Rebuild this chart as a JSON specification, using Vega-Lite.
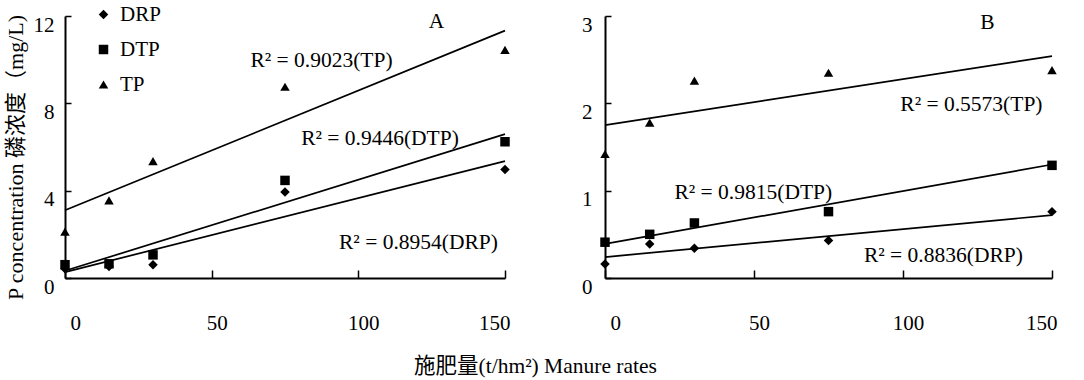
{
  "$schema": "https://vega.github.io/schema/vega-lite/v6.json",
  "background": "white",
  "padding": {"left": 3, "top": 4, "right": 5, "bottom": 5},
  "config": {
    "font": "'Liberation Serif', 'Times New Roman', 'Noto Sans CJK SC', serif",
    "view": {"stroke": null},
    "axis": {
      "grid": false,
      "domainColor": "black",
      "domainWidth": 2,
      "tickColor": "black",
      "tickWidth": 1.5,
      "labelColor": "black",
      "labelFont": "'Liberation Serif', 'Times New Roman', serif",
      "labelFontSize": 21,
      "titleColor": "black",
      "titleFont": "'Liberation Serif', 'Times New Roman', 'Noto Sans CJK SC', serif",
      "titleFontSize": 21.5,
      "titleFontWeight": "normal"
    }
  },
  "datasets": {
    "points": [
      {"panel": "A", "series": "DRP", "x": 0, "y": 0.42},
      {"panel": "A", "series": "DRP", "x": 15, "y": 0.53},
      {"panel": "A", "series": "DRP", "x": 30, "y": 0.61},
      {"panel": "A", "series": "DRP", "x": 75, "y": 3.94},
      {"panel": "A", "series": "DRP", "x": 150, "y": 4.97},
      {"panel": "A", "series": "DTP", "x": 0, "y": 0.61},
      {"panel": "A", "series": "DTP", "x": 15, "y": 0.65},
      {"panel": "A", "series": "DTP", "x": 30, "y": 1.06},
      {"panel": "A", "series": "DTP", "x": 75, "y": 4.47},
      {"panel": "A", "series": "DTP", "x": 150, "y": 6.24},
      {"panel": "A", "series": "TP", "x": 0, "y": 2.12},
      {"panel": "A", "series": "TP", "x": 15, "y": 3.56},
      {"panel": "A", "series": "TP", "x": 30, "y": 5.35},
      {"panel": "A", "series": "TP", "x": 75, "y": 8.76},
      {"panel": "A", "series": "TP", "x": 150, "y": 10.45},
      {"panel": "B", "series": "DRP", "x": 0, "y": 0.16},
      {"panel": "B", "series": "DRP", "x": 15, "y": 0.39},
      {"panel": "B", "series": "DRP", "x": 30, "y": 0.34},
      {"panel": "B", "series": "DRP", "x": 75, "y": 0.43},
      {"panel": "B", "series": "DRP", "x": 150, "y": 0.76},
      {"panel": "B", "series": "DTP", "x": 0, "y": 0.41},
      {"panel": "B", "series": "DTP", "x": 15, "y": 0.5},
      {"panel": "B", "series": "DTP", "x": 30, "y": 0.63},
      {"panel": "B", "series": "DTP", "x": 75, "y": 0.76},
      {"panel": "B", "series": "DTP", "x": 150, "y": 1.29},
      {"panel": "B", "series": "TP", "x": 0, "y": 1.42},
      {"panel": "B", "series": "TP", "x": 15, "y": 1.78},
      {"panel": "B", "series": "TP", "x": 30, "y": 2.26},
      {"panel": "B", "series": "TP", "x": 75, "y": 2.35},
      {"panel": "B", "series": "TP", "x": 150, "y": 2.38}
    ],
    "fits": [
      {"panel": "A", "series": "DRP", "x": 0, "y": 0.27},
      {"panel": "A", "series": "DRP", "x": 150, "y": 5.35},
      {"panel": "A", "series": "DTP", "x": 0, "y": 0.33},
      {"panel": "A", "series": "DTP", "x": 150, "y": 6.59},
      {"panel": "A", "series": "TP", "x": 0, "y": 3.1},
      {"panel": "A", "series": "TP", "x": 150, "y": 11.33},
      {"panel": "B", "series": "DRP", "x": 0, "y": 0.24},
      {"panel": "B", "series": "DRP", "x": 150, "y": 0.72},
      {"panel": "B", "series": "DTP", "x": 0, "y": 0.39},
      {"panel": "B", "series": "DTP", "x": 150, "y": 1.3},
      {"panel": "B", "series": "TP", "x": 0, "y": 1.75},
      {"panel": "B", "series": "TP", "x": 150, "y": 2.54}
    ],
    "notes": [
      {"panel": "A", "x": 63.2, "y": 9.95, "label": "R² = 0.9023(TP)"},
      {"panel": "A", "x": 80.5, "y": 6.36, "label": "R² = 0.9446(DTP)"},
      {"panel": "A", "x": 93.4, "y": 1.59, "label": "R² = 0.8954(DRP)"},
      {"panel": "A", "x": 124.0, "y": 11.74, "label": "A"},
      {"panel": "B", "x": 99.1, "y": 1.98, "label": "R² = 0.5573(TP)"},
      {"panel": "B", "x": 23.3, "y": 0.97, "label": "R² = 0.9815(DTP)"},
      {"panel": "B", "x": 86.9, "y": 0.25, "label": "R² = 0.8836(DRP)"},
      {"panel": "B", "x": 125.9, "y": 2.92, "label": "B"}
    ]
  },
  "spacing": 100,
  "bounds": "flush",
  "resolve": {
    "scale": {"x": "independent", "y": "independent", "shape": "independent"},
    "legend": {"shape": "independent"}
  },
  "hconcat": [
    {
      "width": 440,
      "height": 262,
      "encoding": {
        "x": {
          "field": "x", "type": "quantitative",
          "scale": {"domain": [0, 150], "nice": false},
          "axis": {
            "values": [0, 50, 100, 150], "tickSize": -8, "labelPadding": 42, "labelOffset": 5,
            "title": "施肥量(t/hm²) Manure rates", "titleX": 470, "titleY": 88, "titleBaseline": "middle", "titleAlign": "center", "titleAngle": 0
          }
        },
        "y": {
          "field": "y", "type": "quantitative",
          "scale": {"domain": [0, 12], "nice": false},
          "axis": {
            "values": [0, 4, 8, 12], "tickSize": -6, "labelPadding": 17, "labelOffset": 9,
            "title": "P concentration 磷浓度（mg/L)", "titleFontSize": 22, "titlePadding": 6, "titleY": 141
          }
        }
      },
      "layer": [
        {
          "data": {"name": "fits"},
          "transform": [{"filter": "datum.panel === 'A'"}],
          "mark": {"type": "line", "color": "black", "strokeWidth": 1.7},
          "encoding": {"detail": {"field": "series", "type": "nominal"}}
        },
        {
          "data": {"name": "points"},
          "transform": [{"filter": "datum.panel === 'A'"}],
          "mark": {"type": "point", "filled": true, "color": "black", "opacity": 1, "size": 90},
          "encoding": {
            "shape": {
              "field": "series", "type": "nominal",
              "scale": {"domain": ["DRP", "DTP", "TP"], "range": ["diamond", "square", "triangle-up"]},
              "legend": {
                "orient": "none", "legendX": 28, "legendY": -12, "title": null, "padding": 0,
                "labelFontSize": 21, "labelFont": "'Liberation Serif', 'Times New Roman', serif", "labelColor": "black",
                "symbolSize": 90, "symbolFillColor": "black", "symbolStrokeColor": "black",
                "symbolOpacity": 1, "rowPadding": 13, "labelOffset": 6
              }
            }
          }
        },
        {
          "data": {"name": "notes"},
          "transform": [{"filter": "datum.panel === 'A'"}],
          "mark": {"type": "text", "fontSize": 21.5, "font": "'Liberation Serif', 'Times New Roman', serif", "color": "black", "baseline": "middle", "align": "left"},
          "encoding": {"text": {"field": "label", "type": "nominal"}}
        }
      ]
    },
    {
      "width": 447,
      "height": 262,
      "encoding": {
        "x": {
          "field": "x", "type": "quantitative",
          "scale": {"domain": [0, 150], "nice": false},
          "axis": {"values": [0, 50, 100, 150], "tickSize": -8, "labelPadding": 42, "labelOffset": 5, "title": null}
        },
        "y": {
          "field": "y", "type": "quantitative",
          "scale": {"domain": [0, 3], "nice": false},
          "axis": {"values": [0, 1, 2, 3], "tickSize": -6, "labelPadding": 19, "labelOffset": 9, "title": null}
        }
      },
      "layer": [
        {
          "data": {"name": "fits"},
          "transform": [{"filter": "datum.panel === 'B'"}],
          "mark": {"type": "line", "color": "black", "strokeWidth": 1.7},
          "encoding": {"detail": {"field": "series", "type": "nominal"}}
        },
        {
          "data": {"name": "points"},
          "transform": [{"filter": "datum.panel === 'B'"}],
          "mark": {"type": "point", "filled": true, "color": "black", "opacity": 1, "size": 90},
          "encoding": {
            "shape": {
              "field": "series", "type": "nominal",
              "scale": {"domain": ["DRP", "DTP", "TP"], "range": ["diamond", "square", "triangle-up"]},
              "legend": null
            }
          }
        },
        {
          "data": {"name": "notes"},
          "transform": [{"filter": "datum.panel === 'B'"}],
          "mark": {"type": "text", "fontSize": 21.5, "font": "'Liberation Serif', 'Times New Roman', serif", "color": "black", "baseline": "middle", "align": "left"},
          "encoding": {"text": {"field": "label", "type": "nominal"}}
        }
      ]
    }
  ]
}
